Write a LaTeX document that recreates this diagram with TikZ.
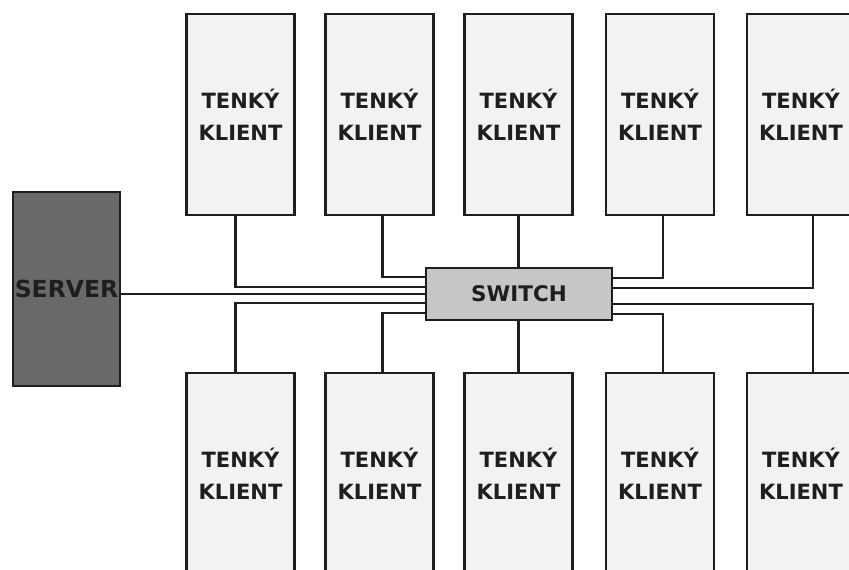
\documentclass[tikz,border=0pt]{standalone}
\usepackage{fontspec}
\setmainfont{DejaVu Sans}
\usepackage{xcolor}
\definecolor{ink}{RGB}{30,30,30}
\definecolor{paper}{RGB}{242,242,242}
\definecolor{metal}{RGB}{198,198,198}
\definecolor{rack}{RGB}{105,105,105}
\usepackage{tikz}
\usetikzlibrary{positioning,calc}
\tikzset{
  %% thin clients
  clientbox/.style={draw=ink, line width=2.2pt, fill=paper,
    minimum width=108pt, minimum height=201pt, inner sep=0pt,
    align=center, text=ink, font=\bfseries\fontsize{21}{32}\selectfont},
  %% switch in the middle
  switchbox/.style={draw=ink, line width=2.2pt, fill=metal,
    minimum width=186pt, minimum height=52pt, inner sep=0pt,
    text=ink, font=\bfseries\fontsize{21.5}{26}\selectfont},
  %% server on the left
  serverbox/.style={draw=ink, line width=2.2pt, fill=rack,
    minimum width=107pt, minimum height=194pt, inner sep=0pt,
    text=ink, font=\bfseries\fontsize{23.5}{28}\selectfont},
  wire/.style={draw=ink, line width=2.2pt},
}

\begin{document}
\begin{tikzpicture}[x=1pt,y=-1pt]
\useasboundingbox (0,0) rectangle (849,570);
\clip (0,0) rectangle (849,570);

\node[serverbox] (server) at (66.5,289) {SERVER};
\node[switchbox] (switch) at (519,294) {SWITCH};

\foreach \i/\x in {1/240.5,2/379.5,3/518.5,4/660,5/801}{
  \node[clientbox] (klient-t\i) at (\x,114.5) {TENKÝ\\KLIENT};
  \node[clientbox] (klient-b\i) at (\x,473.5) {TENKÝ\\KLIENT};
}

%% server to switch
\draw[wire] (server.east |- switch.west) -- (switch.west);

%% left side
\draw[wire] ([xshift=3]klient-t2.south) |- ([yshift=17]switch.west);
\draw[wire] ([xshift=-5]klient-t1.south) |- ([yshift=7]switch.west);
\draw[wire] ([xshift=-5]klient-b1.north) |- ([yshift=-9]switch.west);
\draw[wire] ([xshift=3]klient-b2.north) |- ([yshift=-19]switch.west);

%% straight up and down
\draw[wire] (klient-t3.south) -- (switch.north -| klient-t3.south);
\draw[wire] (klient-b3.north) -- (switch.south -| klient-b3.north);

%% right side
\draw[wire] ([xshift=3]klient-t4.south) |- ([yshift=16]switch.east);
\draw[wire] ([xshift=12]klient-t5.south) |- ([yshift=6]switch.east);
\draw[wire] ([xshift=12]klient-b5.north) |- ([yshift=-10]switch.east);
\draw[wire] ([xshift=3]klient-b4.north) |- ([yshift=-20]switch.east);
\end{tikzpicture}
\end{document}
